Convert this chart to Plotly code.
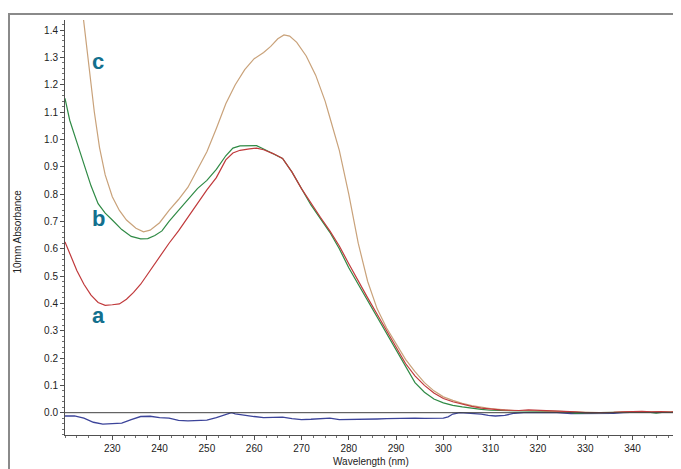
import plotly.graph_objects as go

# ---- data ----
wl_a = [220, 221, 222.5, 224, 225.5, 227, 228.5, 230, 231.5, 233, 234.5, 236, 238, 240, 242, 244, 246, 248, 250,
        252, 254, 255.5, 257, 259, 260.5, 262, 264, 266, 268, 270, 272, 274, 276, 278, 280, 282, 284, 286, 288,
        290, 292, 294, 296, 298, 300, 302, 304, 306, 308, 310, 312, 314, 316, 318, 320, 322, 325, 328, 330, 333,
        336, 338, 340, 342, 344, 346, 348, 349.4]
abs_a = [0.625, 0.58, 0.52, 0.47, 0.43, 0.403, 0.393, 0.395, 0.398, 0.415, 0.44, 0.47, 0.52, 0.57, 0.62, 0.665,
         0.715, 0.765, 0.815, 0.86, 0.925, 0.95, 0.96, 0.965, 0.968, 0.962, 0.948, 0.93, 0.88, 0.82, 0.765, 0.715,
         0.665, 0.61, 0.545, 0.48, 0.42, 0.36, 0.30, 0.235, 0.18, 0.135, 0.10, 0.072, 0.052, 0.04, 0.031, 0.023,
         0.017, 0.013, 0.01, 0.009, 0.008, 0.01, 0.009, 0.007, 0.005, 0.003, 0.0, 0.0, 0.001, 0.003, 0.005, 0.005,
         0.003, 0.004, 0.002, 0.004]

wl_b = [220, 221, 222.5, 224, 225.5, 227, 228.5, 230, 232, 234, 236, 237.5, 239, 240.5, 242, 244, 246, 248, 250,
        252, 254, 255.5, 257, 259, 260.5, 262, 264, 266, 268, 270, 272, 274, 276, 278, 280, 282, 284, 286, 288,
        290, 292, 294, 296, 298, 300, 302, 304, 306, 308, 310, 312, 314, 316, 318, 320, 323, 326, 328, 330, 333,
        336, 340, 343, 345, 347, 349.4]
abs_b = [1.15, 1.07, 0.99, 0.91, 0.83, 0.765, 0.73, 0.705, 0.67, 0.645, 0.636, 0.637, 0.648, 0.665, 0.70, 0.74,
         0.78, 0.82, 0.85, 0.89, 0.94, 0.968, 0.976, 0.978, 0.977, 0.965, 0.948, 0.93, 0.88, 0.82, 0.76, 0.71,
         0.66, 0.60, 0.53, 0.47, 0.41, 0.35, 0.29, 0.23, 0.165, 0.11, 0.075, 0.05, 0.036, 0.027, 0.021, 0.016,
         0.012, 0.009, 0.008, 0.008, 0.007, 0.006, 0.006, 0.005, 0.004, -0.003, -0.001, 0.0, 0.001, 0.002, 0.003,
         -0.002, 0.003, 0.002]

wl_c = [223.5, 224.2, 225.2, 226.2, 227.3, 228.5, 230, 231.5, 233, 235, 236.6, 238, 240, 242, 244, 246, 248, 250,
        252, 254, 256, 258, 260, 262, 263.5, 265, 266.3, 267.5, 269, 271, 273, 275, 276, 278, 280, 282, 284, 286,
        288, 290, 292, 294, 296, 298, 300, 302, 304, 306, 308, 310, 313, 315, 318, 320, 322, 325, 328, 330, 333,
        336, 338, 341, 344, 347, 349.4]
abs_c = [1.50, 1.40, 1.25, 1.10, 0.97, 0.87, 0.79, 0.74, 0.705, 0.675, 0.662, 0.668, 0.695, 0.74, 0.78, 0.825,
         0.89, 0.955, 1.04, 1.13, 1.20, 1.255, 1.295, 1.318, 1.34, 1.368, 1.382, 1.378, 1.355, 1.305, 1.235, 1.14,
         1.08, 0.96, 0.80, 0.62, 0.48, 0.38, 0.31, 0.25, 0.195, 0.15, 0.11, 0.08, 0.058, 0.045, 0.034, 0.026,
         0.02, 0.015, 0.01, 0.008, 0.008, 0.007, 0.006, 0.005, 0.003, 0.001, 0.0, 0.001, 0.003, 0.004, 0.003,
         0.004, 0.003]

wl_base = [220, 222, 224, 226, 228, 230, 232, 234, 236, 238, 240, 242, 244, 246, 248, 250, 252, 254, 255.2, 256,
           258, 260, 262, 264, 266, 268, 270, 272, 274, 276, 278, 280, 282, 284, 286, 288, 290, 292, 294, 296,
           298, 300, 301, 302, 303.5, 306, 308, 309.5, 311, 313, 315, 317, 320, 322, 324, 327, 330, 333, 336,
           338, 341, 344, 347, 349.4]
abs_base = [-0.012, -0.012, -0.02, -0.035, -0.042, -0.041, -0.038, -0.025, -0.014, -0.013, -0.018, -0.02, -0.028,
            -0.03, -0.029, -0.027, -0.018, -0.005, 0.0, -0.004, -0.01, -0.014, -0.018, -0.017, -0.016, -0.022,
            -0.025, -0.024, -0.022, -0.02, -0.025, -0.025, -0.024, -0.025, -0.023, -0.022, -0.021, -0.02, -0.02,
            -0.021, -0.02, -0.02, -0.015, -0.005, 0.0, -0.002, -0.005, -0.01, -0.012, -0.01, -0.002, 0.0, 0.0,
            -0.002, 0.0, -0.003, -0.003, -0.003, -0.002, 0.0, 0.002, 0.001, 0.0, 0.001]

x_ticks = [230, 240, 250, 260, 270, 280, 290, 300, 310, 320, 330, 340]
y_ticks = [0.0, 0.1, 0.2, 0.3, 0.4, 0.5, 0.6, 0.7, 0.8, 0.9, 1.0, 1.1, 1.2, 1.3, 1.4]
curve_labels = ["a", "b", "c"]
label_pos = [(227, 0.355), (227, 0.71), (227, 1.286)]

FONT = "Liberation Sans, Arial, sans-serif"

fig = go.Figure()
fig.add_trace(go.Scatter(x=wl_base, y=abs_base, mode="lines", line=dict(color="#3c449a", width=1.3)))
fig.add_trace(go.Scatter(x=wl_b, y=abs_b, mode="lines", line=dict(color="#2f8a45", width=1.2)))
fig.add_trace(go.Scatter(x=wl_c, y=abs_c, mode="lines", line=dict(color="#c9a27a", width=1.2)))
fig.add_trace(go.Scatter(x=wl_a, y=abs_a, mode="lines", line=dict(color="#c0393b", width=1.2)))

# zero line
fig.add_shape(type="line", xref="paper", yref="y", x0=0, x1=1, y0=0, y1=0,
              line=dict(color="#404040", width=1))

# window frame (top and left border)
fig.add_shape(type="line", xref="paper", yref="paper", x0=-0.2, x1=1.1, y0=1.0145, y1=1.0145,
              line=dict(color="#8a8a8a", width=2))
fig.add_shape(type="line", xref="paper", yref="paper", x0=-0.0915, x1=-0.0915, y0=-0.2, y1=1.0145,
              line=dict(color="#8a8a8a", width=2))

for lab, (lx, ly) in zip(curve_labels, label_pos):
    fig.add_annotation(x=lx, y=ly, text="<b>%s</b>" % lab, showarrow=False,
                       font=dict(family=FONT, size=22, color="#13708e"))

fig.add_annotation(xref="paper", yref="paper", x=0.5, y=-0.063, text="Wavelength (nm)", showarrow=False,
                   xanchor="center", yanchor="middle", font=dict(family=FONT, size=10, color="#222"))
fig.add_annotation(xref="paper", yref="paper", x=-0.077, y=0.49, text="10mm Absorbance", showarrow=False,
                   textangle=-90, xanchor="center", yanchor="middle", font=dict(family=FONT, size=10, color="#222"))

# page body has an 8px margin: figure is offset by (8, 8) inside the window
fig.update_layout(
    width=673, height=461,
    margin=dict(l=57, r=4, t=12, b=34),
    paper_bgcolor="white", plot_bgcolor="white",
    showlegend=False,
    font=dict(family=FONT, size=10, color="#222"),
)
fig.update_xaxes(range=[220, 349.4], tickmode="array", tickvals=x_ticks,
                 showgrid=False, zeroline=False, showline=True, linecolor="#505050", linewidth=1,
                 ticks="outside", ticklen=4, tickcolor="#505050",
                 minor=dict(ticks="outside", ticklen=2, dtick=2.5, tick0=220, tickcolor="#707070"),
                 tickfont=dict(family=FONT, size=10, color="#222"))
fig.update_yaxes(range=[-0.0816, 1.4367], tickmode="array", tickvals=y_ticks, tickformat=".1f",
                 showgrid=False, zeroline=False, showline=True, linecolor="#505050", linewidth=1,
                 ticks="outside", ticklen=4, tickcolor="#505050",
                 minor=dict(ticks="outside", ticklen=2, dtick=0.02, tick0=0, tickcolor="#707070"),
                 tickfont=dict(family=FONT, size=10, color="#222"))

fig.write_html("out.html")
